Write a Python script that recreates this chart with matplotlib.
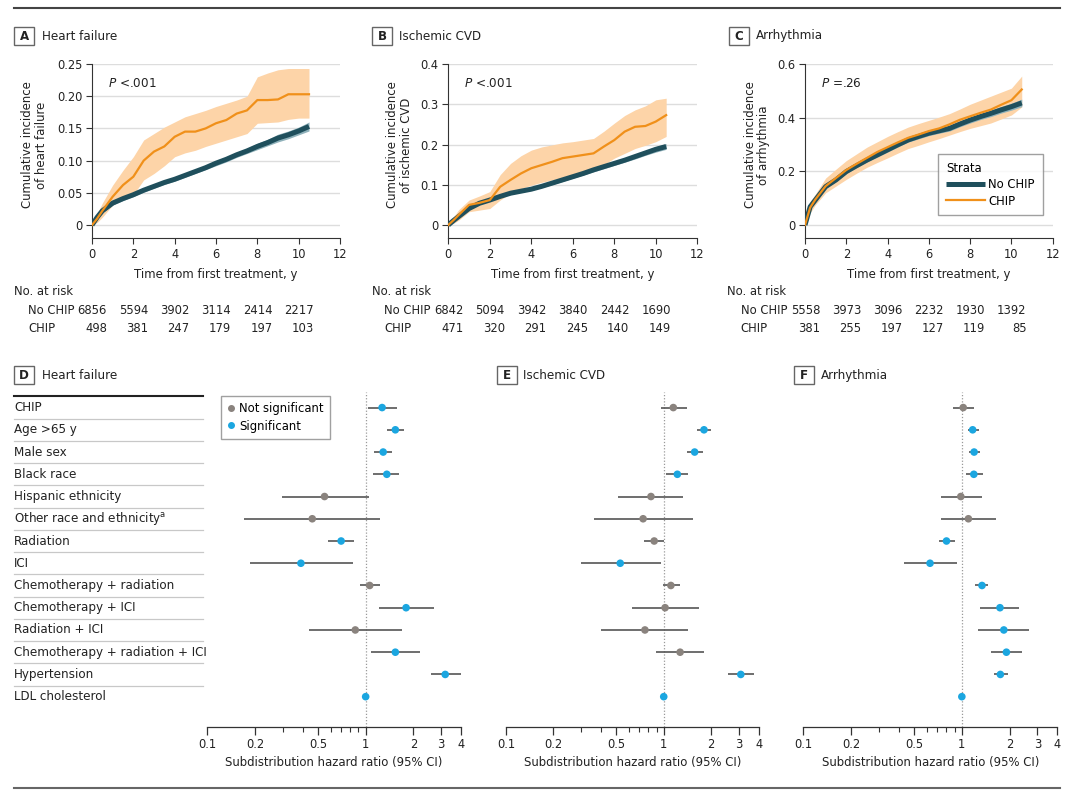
import os
import numpy as np
import matplotlib
matplotlib.use('Agg')
import matplotlib.pyplot as plt
from matplotlib import transforms, font_manager
from matplotlib.lines import Line2D
from matplotlib.patches import Rectangle

# pick a narrow sans font if one is installed, otherwise Lato
FONT, STRETCH, S = 'Lato', 'normal', 0.85
_cands = []
for f in font_manager.fontManager.ttflist:
    fn = os.path.basename(f.fname).lower()
    if ('narrow' in fn or 'condensed' in fn) and not any(w in fn for w in ['bold', 'italic', 'oblique', 'light', 'mono', 'serif']):
        _cands.append(f)
_cands.sort(key=lambda f: (0 if 'liberation' in f.fname.lower() else 1))
if _cands:
    FONT, STRETCH, S = _cands[0].name, _cands[0].stretch, 0.81
plt.rcParams['font.family'] = [FONT, 'DejaVu Sans']
plt.rcParams['font.stretch'] = STRETCH
plt.rcParams['mathtext.fontset'] = 'custom'
plt.rcParams['mathtext.it'] = FONT + ':italic'
plt.rcParams['mathtext.rm'] = FONT

# ---------------- data: cumulative incidence ----------------
times = [0, 0.25, 0.5, 1, 1.5, 2, 2.5, 3, 3.5, 4, 4.5, 5, 5.5, 6, 6.5, 7, 7.5, 8, 8.5, 9, 9.5, 10, 10.5]

hf_nochip = [0, 0.012, 0.022, 0.034, 0.041, 0.047, 0.054, 0.060, 0.066, 0.071, 0.077, 0.083, 0.089, 0.096, 0.102, 0.109, 0.115, 0.122, 0.128, 0.135, 0.140, 0.146, 0.153]
hf_nochip_lo = [0, 0.010, 0.019, 0.031, 0.038, 0.044, 0.051, 0.057, 0.063, 0.068, 0.074, 0.080, 0.086, 0.092, 0.098, 0.105, 0.111, 0.117, 0.123, 0.129, 0.134, 0.140, 0.146]
hf_nochip_hi = [0, 0.014, 0.025, 0.037, 0.044, 0.050, 0.057, 0.063, 0.069, 0.074, 0.080, 0.086, 0.092, 0.100, 0.106, 0.113, 0.119, 0.127, 0.133, 0.141, 0.146, 0.152, 0.160]
hf_chip = [0, 0.010, 0.022, 0.044, 0.062, 0.075, 0.100, 0.114, 0.122, 0.137, 0.145, 0.145, 0.150, 0.158, 0.163, 0.173, 0.178, 0.194, 0.194, 0.195, 0.203, 0.203, 0.203]
hf_chip_lo = [0, 0.004, 0.012, 0.031, 0.040, 0.047, 0.070, 0.080, 0.092, 0.106, 0.112, 0.116, 0.122, 0.127, 0.132, 0.137, 0.142, 0.158, 0.159, 0.160, 0.164, 0.166, 0.166]
hf_chip_hi = [0, 0.018, 0.034, 0.062, 0.085, 0.106, 0.132, 0.142, 0.152, 0.160, 0.168, 0.173, 0.178, 0.184, 0.189, 0.194, 0.200, 0.230, 0.236, 0.241, 0.243, 0.243, 0.243]

cvd_nochip = [0, 0.011, 0.021, 0.041, 0.054, 0.062, 0.071, 0.079, 0.084, 0.089, 0.096, 0.104, 0.112, 0.120, 0.128, 0.137, 0.145, 0.153, 0.161, 0.170, 0.179, 0.188, 0.195]
cvd_nochip_lo = [0, 0.009, 0.019, 0.038, 0.051, 0.059, 0.068, 0.076, 0.081, 0.086, 0.093, 0.100, 0.108, 0.116, 0.124, 0.132, 0.140, 0.148, 0.156, 0.164, 0.173, 0.181, 0.188]
cvd_nochip_hi = [0, 0.013, 0.023, 0.044, 0.057, 0.065, 0.074, 0.082, 0.087, 0.092, 0.099, 0.108, 0.116, 0.124, 0.132, 0.142, 0.150, 0.158, 0.166, 0.176, 0.185, 0.195, 0.202]
cvd_chip = [0, 0.012, 0.025, 0.050, 0.055, 0.062, 0.095, 0.112, 0.128, 0.141, 0.149, 0.157, 0.166, 0.170, 0.174, 0.178, 0.195, 0.211, 0.232, 0.244, 0.246, 0.257, 0.273]
cvd_chip_lo = [0, 0.004, 0.012, 0.033, 0.037, 0.041, 0.062, 0.079, 0.090, 0.099, 0.106, 0.112, 0.117, 0.120, 0.127, 0.133, 0.150, 0.166, 0.178, 0.190, 0.198, 0.207, 0.220]
cvd_chip_hi = [0, 0.020, 0.038, 0.062, 0.072, 0.083, 0.125, 0.153, 0.172, 0.186, 0.194, 0.199, 0.204, 0.207, 0.211, 0.215, 0.233, 0.253, 0.272, 0.286, 0.296, 0.311, 0.315]

arr_nochip = [0, 0.068, 0.093, 0.143, 0.168, 0.199, 0.221, 0.242, 0.261, 0.280, 0.299, 0.317, 0.330, 0.342, 0.351, 0.360, 0.376, 0.391, 0.404, 0.416, 0.429, 0.441, 0.455]
arr_nochip_lo = [0, 0.064, 0.088, 0.137, 0.162, 0.192, 0.214, 0.235, 0.253, 0.272, 0.291, 0.309, 0.321, 0.333, 0.342, 0.350, 0.366, 0.380, 0.393, 0.404, 0.417, 0.428, 0.441]
arr_nochip_hi = [0, 0.072, 0.098, 0.149, 0.174, 0.206, 0.228, 0.249, 0.269, 0.288, 0.307, 0.325, 0.339, 0.351, 0.360, 0.370, 0.386, 0.402, 0.415, 0.428, 0.441, 0.454, 0.469]
arr_chip = [0, 0.065, 0.095, 0.145, 0.175, 0.205, 0.228, 0.250, 0.272, 0.290, 0.308, 0.325, 0.337, 0.350, 0.360, 0.375, 0.392, 0.405, 0.418, 0.430, 0.448, 0.465, 0.505]
arr_chip_lo = [0, 0.045, 0.075, 0.120, 0.145, 0.170, 0.193, 0.215, 0.233, 0.250, 0.268, 0.285, 0.297, 0.310, 0.322, 0.335, 0.348, 0.360, 0.370, 0.380, 0.395, 0.410, 0.440]
arr_chip_hi = [0, 0.088, 0.115, 0.175, 0.208, 0.240, 0.265, 0.290, 0.310, 0.330, 0.348, 0.365, 0.378, 0.390, 0.402, 0.415, 0.432, 0.450, 0.465, 0.480, 0.495, 0.510, 0.555]

risk_times = [0, 2, 4, 6, 8, 10]
hf_risk_nochip = ['6856', '5594', '3902', '3114', '2414', '2217']
hf_risk_chip = ['498', '381', '247', '179', '197', '103']
cvd_risk_nochip = ['6842', '5094', '3942', '3840', '2442', '1690']
cvd_risk_chip = ['471', '320', '291', '245', '140', '149']
arr_risk_nochip = ['5558', '3973', '3096', '2232', '1930', '1392']
arr_risk_chip = ['381', '255', '197', '127', '119', '85']

# ---------------- data: forest plots ----------------
covariates = ['CHIP', 'Age >65 y', 'Male sex', 'Black race', 'Hispanic ethnicity',
              'Other race and ethnicity$^{\\mathrm{a}}$', 'Radiation', 'ICI',
              'Chemotherapy + radiation', 'Chemotherapy + ICI', 'Radiation + ICI',
              'Chemotherapy + radiation + ICI', 'Hypertension', 'LDL cholesterol']

hf_hr = [1.27, 1.54, 1.29, 1.36, 0.55, 0.46, 0.70, 0.39, 1.06, 1.80, 0.86, 1.54, 3.18, 1.00]
hf_lo = [1.03, 1.36, 1.13, 1.12, 0.295, 0.171, 0.58, 0.186, 0.92, 1.21, 0.44, 1.08, 2.58, 0.99]
hf_hi = [1.57, 1.75, 1.46, 1.62, 1.05, 1.24, 0.84, 0.835, 1.24, 2.70, 1.69, 2.20, 3.98, 1.01]
hf_sig = [1, 1, 1, 1, 0, 0, 1, 1, 0, 1, 0, 1, 1, 1]

cvd_hr = [1.15, 1.80, 1.57, 1.22, 0.83, 0.74, 0.87, 0.53, 1.11, 1.02, 0.76, 1.27, 3.08, 1.00]
cvd_lo = [0.96, 1.63, 1.40, 1.035, 0.51, 0.36, 0.75, 0.30, 0.985, 0.63, 0.40, 0.895, 2.57, 0.99]
cvd_hi = [1.40, 2.00, 1.77, 1.43, 1.32, 1.53, 1.00, 0.96, 1.26, 1.67, 1.43, 1.80, 3.72, 1.01]
cvd_sig = [0, 1, 1, 1, 0, 0, 0, 1, 0, 0, 0, 0, 1, 1]

arr_hr = [1.02, 1.17, 1.195, 1.19, 0.985, 1.10, 0.80, 0.63, 1.34, 1.74, 1.84, 1.91, 1.75, 1.00]
arr_lo = [0.88, 1.09, 1.11, 1.06, 0.74, 0.74, 0.716, 0.43, 1.21, 1.30, 1.27, 1.53, 1.60, 0.99]
arr_hi = [1.20, 1.29, 1.31, 1.35, 1.34, 1.65, 0.90, 0.935, 1.47, 2.31, 2.64, 2.38, 1.95, 1.01]
arr_sig = [0, 1, 1, 1, 0, 0, 1, 1, 1, 1, 1, 1, 1, 1]

hr_ticks = [0.1, 0.2, 0.5, 1, 2, 3, 4]
hr_tick_labels = ['0.1', '0.2', '0.5', '1', '2', '3', '4']

# ---------------- styling ----------------
W, H = 1080, 796
DARK = '#1f4f5c'
ORANGE = '#f0901a'
ORANGE_BAND = '#fdd4a8'
DARK_BAND = '#8fb1ba'
BLUE = '#1ba6e0'
GRAYPT = '#8a837e'
TXT = '#222222'
FS = 11.4 * S        # tick labels
FN = 11.5 * S        # at-risk numbers, legends
FL = 11.6 * S        # axis labels
FR = 11.8 * S        # forest row labels
FT = 11.8 * S        # panel titles

fig = plt.figure(figsize=(W / 100, H / 100), dpi=100)


def fx(px):
    return px / W


def fy(py):
    return 1 - py / H


def panel_label(letter, x0, yc, title, title_x):
    fig.add_artist(Rectangle((fx(x0), fy(yc + 9)), 20 / W, 18 / H, transform=fig.transFigure,
                             fc='white', ec='#666666', lw=1.0))
    fig.text(fx(x0 + 10), fy(yc), letter, ha='center', va='center', fontsize=11 * S + 0.5,
             fontweight='bold', color=TXT)
    fig.text(fx(title_x), fy(yc), title, ha='left', va='center', fontsize=FT, color=TXT)


# rules
fig.add_artist(Line2D([fx(14), fx(1060)], [fy(7.5), fy(7.5)], color='#444444', lw=1.5))
fig.add_artist(Line2D([fx(14), fx(1060)], [fy(788), fy(788)], color='#666666', lw=1.5))

km_panels = [
    dict(x0=92, x1=340, letter='A', box=14, tx=42, title='Heart failure',
         ylabel='Cumulative incidence\nof heart failure', ymax=0.25,
         yticks=[0, 0.05, 0.10, 0.15, 0.20, 0.25], ytl=['0', '0.05', '0.10', '0.15', '0.20', '0.25'],
         nc=hf_nochip, nclo=hf_nochip_lo, nchi=hf_nochip_hi, c=hf_chip, clo=hf_chip_lo, chi=hf_chip_hi,
         ptxt='$P$ <.001', rn=hf_risk_nochip, rc=hf_risk_chip, lx=-0.178, nar=14, rowlab=28),
    dict(x0=448.3, x1=697.3, letter='B', box=372, tx=399, title='Ischemic CVD',
         ylabel='Cumulative incidence\nof ischemic CVD', ymax=0.4,
         yticks=[0, 0.1, 0.2, 0.3, 0.4], ytl=['0', '0.1', '0.2', '0.3', '0.4'],
         nc=cvd_nochip, nclo=cvd_nochip_lo, nchi=cvd_nochip_hi, c=cvd_chip, clo=cvd_chip_lo, chi=cvd_chip_hi,
         ptxt='$P$ <.001', rn=cvd_risk_nochip, rc=cvd_risk_chip, lx=-0.142, nar=371.7, rowlab=384),
    dict(x0=805, x1=1052.7, letter='C', box=728.5, tx=756, title='Arrhythmia',
         ylabel='Cumulative incidence\nof arrhythmia', ymax=0.6,
         yticks=[0, 0.2, 0.4, 0.6], ytl=['0', '0.2', '0.4', '0.6'],
         nc=arr_nochip, nclo=arr_nochip_lo, nchi=arr_nochip_hi, c=arr_chip, clo=arr_chip_lo, chi=arr_chip_hi,
         ptxt='$P$ =.26', rn=arr_risk_nochip, rc=arr_risk_chip, lx=-0.141, nar=727.3, rowlab=740.7),
]

for p in km_panels:
    ax = fig.add_axes([fx(p['x0']), fy(238), (p['x1'] - p['x0']) / W, (238 - 64) / H])
    ymin = -p['ymax'] * 13 / 161
    ax.fill_between(times, p['clo'], p['chi'], color=ORANGE_BAND, lw=0, zorder=2)
    ax.fill_between(times, p['nclo'], p['nchi'], color=DARK_BAND, lw=0, zorder=3)
    ax.plot(times, p['nc'], color=DARK, lw=3.6, zorder=4, label='No CHIP', solid_capstyle='butt')
    ax.plot(times, p['c'], color=ORANGE, lw=1.6, zorder=5, label='CHIP')
    ax.set_xlim(0, 12)
    ax.set_ylim(ymin, p['ymax'])
    ax.set_xticks([0, 2, 4, 6, 8, 10, 12])
    ax.set_yticks(p['yticks'])
    ax.set_yticklabels(p['ytl'])
    ax.yaxis.grid(True, color='#dddddd', lw=1.0)
    ax.set_axisbelow(True)
    for s in ['top', 'right']:
        ax.spines[s].set_visible(False)
    for s in ['left', 'bottom']:
        ax.spines[s].set_color('#333333')
        ax.spines[s].set_linewidth(0.8)
    ax.tick_params(axis='both', labelsize=FS, length=4, width=0.8, color='#333333',
                   labelcolor=TXT, pad=3)
    ax.set_xlabel('Time from first treatment, y', fontsize=FL, color=TXT, labelpad=5)
    ax.set_ylabel(p['ylabel'], fontsize=FL, color=TXT, linespacing=1.05)
    ax.yaxis.set_label_coords(p['lx'], 0.535)
    ax.text(0.065, 0.89, p['ptxt'], transform=ax.transAxes, fontsize=FN + 0.3, color=TXT,
            ha='left', va='center')
    panel_label(p['letter'], p['box'], 36, p['title'], p['tx'])
    # number at risk
    fig.text(fx(p['nar']), fy(292), 'No. at risk', fontsize=FN, va='center', color=TXT)
    fig.text(fx(p['rowlab']), fy(310), 'No CHIP', fontsize=FN, va='center', color=TXT)
    fig.text(fx(p['rowlab']), fy(328), 'CHIP', fontsize=FN, va='center', color=TXT)
    tr = transforms.blended_transform_factory(ax.transData, fig.transFigure)
    tr = transforms.offset_copy(tr, fig=fig, x=15, y=0, units='dots')
    for t, a, b in zip(risk_times, p['rn'], p['rc']):
        ax.text(t, fy(310), a, transform=tr, ha='right', va='center', fontsize=FN, color=TXT)
        ax.text(t, fy(328), b, transform=tr, ha='right', va='center', fontsize=FN, color=TXT)
    if p['letter'] == 'C':
        leg = ax.legend(loc='upper left', bbox_to_anchor=(0.537, 0.48), title='Strata',
                        fontsize=FN, title_fontsize=FN, frameon=True, fancybox=False,
                        edgecolor='#888888', handlelength=3.0, borderpad=0.6,
                        labelspacing=0.25, handletextpad=0.3, borderaxespad=0)
        leg._legend_box.align = 'left'
        leg.get_frame().set_linewidth(1.0)

# forest plots
fp_panels = [
    dict(x0=207.3, x1=461, letter='D', box=14, tx=42, title='Heart failure',
         hr=hf_hr, lo=hf_lo, hi=hf_hi, sig=hf_sig),
    dict(x0=506, x1=758.7, letter='E', box=497, tx=523, title='Ischemic CVD',
         hr=cvd_hr, lo=cvd_lo, hi=cvd_hi, sig=cvd_sig),
    dict(x0=803.3, x1=1057.3, letter='F', box=793.5, tx=821, title='Arrhythmia',
         hr=arr_hr, lo=arr_lo, hi=arr_hi, sig=arr_sig),
]

rows = np.arange(len(covariates))
for k, p in enumerate(fp_panels):
    ax = fig.add_axes([fx(p['x0']), fy(726.7), (p['x1'] - p['x0']) / W, (726.7 - 392) / H])
    ax.set_xscale('log')
    ax.set_xlim(0.1, 4)
    ax.set_ylim(14.35, -0.7)
    ax.axvline(1, color='#9a9a9a', ls=(0, (1, 1.5)), lw=0.9, zorder=1)
    ax.hlines(rows, p['lo'], p['hi'], color='#555555', lw=1.2, zorder=2)
    cols = [BLUE if s else GRAYPT for s in p['sig']]
    ax.scatter(p['hr'], rows, s=30, c=cols, zorder=3, linewidths=0)
    for s in ['top', 'right', 'left']:
        ax.spines[s].set_visible(False)
    ax.spines['bottom'].set_color('#333333')
    ax.spines['bottom'].set_linewidth(0.9)
    ax.set_yticks([])
    ax.set_xticks(hr_ticks)
    ax.set_xticklabels(hr_tick_labels)
    ax.xaxis.set_minor_locator(matplotlib.ticker.FixedLocator([0.3, 0.4, 0.6, 0.7, 0.8, 0.9]))
    ax.xaxis.set_minor_formatter(matplotlib.ticker.NullFormatter())
    ax.tick_params(axis='x', which='major', length=6, width=0.9, labelsize=FS, color='#333333',
                   labelcolor=TXT, pad=2)
    ax.tick_params(axis='x', which='minor', length=3.5, width=0.8, color='#333333')
    ax.set_xlabel('Subdistribution hazard ratio (95% CI)', fontsize=FL, color=TXT, labelpad=4)
    panel_label(p['letter'], p['box'], 375, p['title'], p['tx'])
    if k == 0:
        tr = transforms.blended_transform_factory(fig.transFigure, ax.transData)
        for i, lab in enumerate(covariates):
            ax.text(fx(14), i, lab, transform=tr, ha='left', va='center', fontsize=FR,
                    color=TXT)
        for i in range(len(covariates) - 1):
            ax.add_line(Line2D([fx(14), fx(203)], [i + 0.5, i + 0.5], transform=tr,
                               color='#c8c8c8', lw=0.9, clip_on=False))
        ax.add_line(Line2D([fx(14), fx(203)], [-0.5, -0.5], transform=tr,
                           color=TXT, lw=1.5, clip_on=False))
        handles = [Line2D([], [], marker='o', ls='', color=GRAYPT, markersize=4),
                   Line2D([], [], marker='o', ls='', color=BLUE, markersize=4)]
        leg = ax.legend(handles, ['Not significant', 'Significant'], loc='upper left',
                        bbox_to_anchor=(0.054, 0.988), fontsize=FN, frameon=True, fancybox=False,
                        edgecolor='#888888', handlelength=0.6, handletextpad=0.3, borderpad=0.5,
                        labelspacing=0.35, borderaxespad=0)
        leg.get_frame().set_linewidth(1.0)

fig.savefig('out.png', dpi=100)
